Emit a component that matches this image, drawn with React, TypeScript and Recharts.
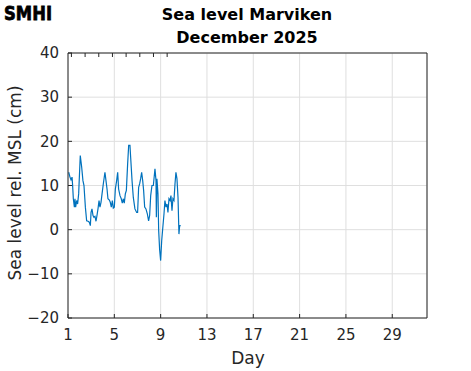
import React from 'react'
import { CartesianGrid, Line, LineChart, XAxis, YAxis } from 'recharts'

// Sea level readings, Marviken, December 2025 (day of month, cm rel. MSL)
const DAYS = [
  1.06, 1.17, 1.26, 1.35, 1.4, 1.46, 1.55, 1.6, 1.66, 1.75, 1.83, 1.92, 2.06, 2.18, 2.29, 2.38,
  2.5, 2.61, 2.73, 2.84, 2.93, 2.99, 3.07, 3.16, 3.24, 3.33, 3.42, 3.5, 3.59, 3.68, 3.76, 3.85,
  3.94, 4.05, 4.19, 4.28, 4.37, 4.45, 4.57, 4.65, 4.74, 4.83, 4.91, 5.0, 5.09, 5.2, 5.29, 5.37,
  5.49, 5.6, 5.69, 5.78, 5.86, 5.95, 6.04, 6.15, 6.24, 6.35, 6.41, 6.53, 6.64, 6.78, 6.93, 7.01,
  7.1, 7.19, 7.27, 7.36, 7.45, 7.53, 7.62, 7.73, 7.85, 7.96, 8.05, 8.14, 8.25, 8.37, 8.51, 8.6,
  8.63, 8.68, 8.77, 8.83, 8.91, 9.0, 9.09, 9.2, 9.29, 9.37, 9.46, 9.55, 9.63, 9.72, 9.81, 9.89,
  9.98, 10.06, 10.15, 10.24, 10.32, 10.41, 10.5, 10.58, 10.64, 10.73,
]
const LEVELS = [
  13.0, 11.9, 11.3, 11.9, 10.0, 7.0, 5.1, 7.0, 5.1, 6.6, 5.8, 8.1, 16.8, 14.2, 11.1, 10.0,
  5.1, 2.0, 1.9, 1.7, 0.9, 3.9, 4.7, 3.2, 2.8, 3.0, 1.9, 3.2, 4.7, 6.6, 5.1, 6.2,
  8.1, 10.4, 13.0, 11.1, 9.2, 7.0, 6.7, 6.2, 5.1, 6.6, 4.9, 5.1, 9.2, 11.1, 13.0, 9.2,
  7.7, 7.0, 6.0, 7.0, 6.0, 8.1, 8.9, 14.9, 19.1, 19.1, 16.4, 11.1, 7.3, 4.7, 3.9, 3.9,
  9.6, 10.4, 11.5, 13.0, 11.1, 8.9, 5.1, 4.7, 3.6, 2.0, 3.2, 7.7, 10.0, 10.0, 13.8, 11.1,
  2.8, 11.5, 8.1, -0.2, -4.4, -7.0, -2.5, 0.9, 3.6, 6.6, 5.1, 5.8, 3.9, 7.0, 6.6, 7.7,
  4.3, 7.0, 6.6, 10.4, 13.0, 11.5, 7.3, -1.0, 0.9, 0.9,
]
const X_TICKS = [1, 5, 9, 13, 17, 21, 25, 29]
const Y_TICKS = [-20, -10, 0, 10, 20, 30, 40]

const data = DAYS.map((day, i) => ({ day, level: LEVELS[i] }))

const AXIS = '#262626'
const FONT = '"DejaVu Sans", sans-serif'
const tickStyle = { fill: AXIS, fontSize: 15, fontFamily: FONT }
const fmtY = (v: number) => (v < 0 ? `\u2212${Math.abs(v)}` : `${v}`)

export default function App() {
  return (
    <div style={{ position: 'absolute', left: 0, top: 0, width: 471, height: 371, background: '#fff' }}>
      <LineChart
        width={471}
        height={371}
        data={data}
        margin={{ top: 43, right: 34, bottom: 23, left: 38 }}
      >
        <CartesianGrid stroke="#dfdfdf" strokeWidth={1} />
        <XAxis
          xAxisId={0}
          dataKey="day"
          type="number"
          domain={[1, 32]}
          ticks={X_TICKS}
          allowDataOverflow
          height={30}
          stroke={AXIS}
          tickSize={-4}
          tickMargin={15}
          tick={tickStyle}
        />
        <XAxis
          xAxisId="top"
          orientation="top"
          type="number"
          domain={[1, 32]}
          ticks={X_TICKS}
          height={10}
          stroke={AXIS}
          tickSize={-4}
          tickFormatter={() => ''}
        />
        <YAxis
          yAxisId={0}
          type="number"
          domain={[-20, 40]}
          ticks={Y_TICKS}
          width={30}
          stroke={AXIS}
          tickSize={-4}
          tickMargin={13}
          tick={tickStyle}
          tickFormatter={fmtY}
        />
        <YAxis
          yAxisId="right"
          orientation="right"
          type="number"
          domain={[-20, 40]}
          ticks={Y_TICKS}
          width={10}
          stroke={AXIS}
          tickSize={-4}
          tickFormatter={() => ''}
        />
        <Line
          dataKey="level"
          stroke="#0072BD"
          strokeWidth={1.2}
          dot={false}
          type="linear"
          isAnimationActive={false}
        />
      </LineChart>
      <svg
        width={471}
        height={371}
        style={{ position: 'absolute', left: 0, top: 0, pointerEvents: 'none' }}
      >
        <text
          x={4}
          y={20}
          fontFamily={FONT}
          fontWeight={900}
          fontSize={20}
          textLength={48}
          lengthAdjust="spacingAndGlyphs"
          fill="#000"
          stroke="#000"
          strokeWidth={0.8}
        >
          SMHI
        </text>
        <text x={247} y={20} textAnchor="middle" fontFamily={FONT} fontWeight="bold" fontSize={16} fill="#000">
          Sea level Marviken
        </text>
        <text x={247} y={43} textAnchor="middle" fontFamily={FONT} fontWeight="bold" fontSize={16} fill="#000">
          December 2025
        </text>
        <text x={248} y={364} textAnchor="middle" fontFamily={FONT} fontSize={17} fill={AXIS}>
          Day
        </text>
        <text
          transform="translate(21,183) rotate(-90)"
          textAnchor="middle"
          fontFamily={FONT}
          fontSize={17}
          fill={AXIS}
        >
          Sea level rel. MSL (cm)
        </text>
      </svg>
    </div>
  )
}
